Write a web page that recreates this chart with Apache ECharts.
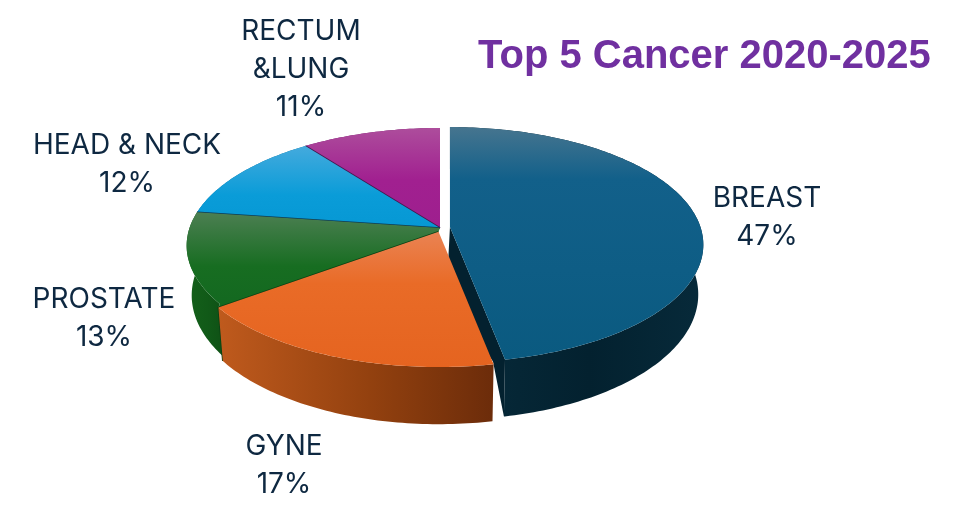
<!DOCTYPE html>
<html>
<head>
<meta charset="utf-8">
<title>Top 5 Cancer 2020-2025</title>
<style>
html,body{margin:0;padding:0;background:#fff;}
#main{width:962px;height:505px;}
</style>
<script src="https://cdn.jsdelivr.net/npm/echarts@6/dist/echarts.min.js"></script>
</head>
<body>
<div id="main"></div>
<script>
// values, clockwise from 12 o'clock
var categories = ['BREAST', 'GYNE', 'PROSTATE', 'HEAD & NECK', 'RECTUM\n&LUNG'];
var values = [47, 17, 13, 12, 11];

// paint order, back to front
var drawOrder = [0, 4, 3, 2, 1];

// styles
var topColors = [
	['#46758f', '#12608a', '#0a5a80'],
	['#ea8353', '#e96b27', '#e56420'],
	['#4c7f52', '#176d21', '#136820'],
	['#44aadd', '#0a9cd8', '#0698d4'],
	['#ad4d9c', '#a12090', '#9e1f8e']
];
var wallColors = [
	['#072b3b', '#03212f', '#072a3a'],
	['#bf5a1d', '#93410f', '#6c2c0a'],
	['#14601a', '#115a18', '#0f5015'],
	['#0a6f9a', '#0a6f9a', '#0a6f9a'],
	['#701a66', '#701a66', '#701a66']
];
var edgeColors = [null, null, '#0b4012', '#0c3c55', '#43194f'];

// layout: fake perspective of the pie
var apexX = 440, apexY = 228;
var radiusX = 250.5, radiusY = 115;
var persp = 0.15, depth = 48.6, bottomScale = 0.98;
var explode = [10, 4, 0, 0, 0];
// the wedges in the picture sit a little off their labels, degrees added at each wedge end
var angleNudge = [0, 2.7, 0.8, 2.6, 0];
var labelCenters = [[767, 218], [284, 466], [104, 319], [127, 165], [301, 70]];
var labelFont = '28px Inter';

var total = values.reduce(function (a, b) { return a + b; }, 0);
var startAngles = [];
var acc = 0;
values.forEach(function (v, i) {
	startAngles.push(acc / total * 360 + (i ? angleNudge[i - 1] : 0));
	acc += v;
});
startAngles.push(360);

function offsetOf(i) {
	var mid = (startAngles[i] + startAngles[i + 1]) / 2 * Math.PI / 180;
	return [explode[i] * Math.sin(mid), -explode[i] * Math.cos(mid)];
}
function topPoint(deg, ox, oy) {
	var t = deg * Math.PI / 180;
	var u = Math.sin(t), v = -Math.cos(t);
	var d = 1 - persp * v;
	return [apexX + ox + u * radiusX / d, apexY + oy + v * radiusY / d, d];
}
function bottomPoint(deg, ox, oy) {
	var p = topPoint(deg, ox, oy);
	return [apexX + ox + (p[0] - apexX - ox) * bottomScale, p[1] + depth / p[2]];
}
function shift(p, off) {
	return [p[0] + off[0], p[1] + off[1]];
}

var unChart = echarts.init(document.getElementById('main'));

function renderSlice(params, api) {
	var i = drawOrder[params.dataIndex];
	var a0 = startAngles[i];
	var a1 = startAngles[i + 1];
	var off = offsetOf(i);
	var ox = off[0], oy = off[1];
	var apex = [apexX + ox, apexY + oy];
	var children = [];
	var top = [], bottom = [], a;

	for (a = a0; a < a1; a += 1) {
		top.push(topPoint(a, ox, oy).slice(0, 2));
		bottom.push(bottomPoint(a, ox, oy));
	}
	top.push(topPoint(a1, ox, oy).slice(0, 2));
	bottom.push(bottomPoint(a1, ox, oy));

	// a wedge with an edge line reaches under the pulled out slice before it, so no gap shows
	var under = edgeColors[i] ? offsetOf(i - 1) : [0, 0];
	var topFace = [apex].concat(top);
	var wall = top.concat(bottom.slice().reverse());
	if (edgeColors[i]) {
		topFace = [shift(apex, under), shift(top[0], under)].concat(top, [apex]);
		wall = [shift(top[0], under)].concat(top, bottom.slice().reverse(), [shift(bottom[0], under)]);
	}

	var wc = wallColors[i];
	children.push({
		type: 'polygon',
		shape: { points: wall },
		style: {
			fill: new echarts.graphic.LinearGradient(0, 0, 1, 0, [
				{ offset: 0, color: wc[0] }, { offset: 0.55, color: wc[1] }, { offset: 1, color: wc[2] }
			])
		}
	});

	// cut face of the pulled out slice, its inner corner hides under the next slice
	if (explode[i] > 5) {
		var c = top[top.length - 1], cb = bottom[bottom.length - 1];
		var waist = [c[0] - 12, c[1] + 2];
		children.push({
			type: 'polygon',
			shape: { points: [apex, c, cb, waist, [(apex[0] + waist[0]) / 2 - 25, (apex[1] + waist[1]) / 2]] },
			style: { fill: wc[1] }
		});
	}

	var ys = top.map(function (p) { return p[1]; }).concat(apex[1]);
	var h = Math.max.apply(null, ys) - Math.min.apply(null, ys);
	var tc = topColors[i];
	children.push({
		type: 'polygon',
		shape: { points: topFace },
		style: {
			fill: new echarts.graphic.LinearGradient(0, 0, 0, 1, [
				{ offset: 0, color: tc[0] }, { offset: Math.min(52 / h, 0.6), color: tc[1] }, { offset: 1, color: tc[2] }
			])
		}
	});

	if (edgeColors[i]) {
		var line = [shift(apex, under), shift(top[0], under)];
		if (Math.cos(a0 * Math.PI / 180) < 0) line.push(shift(bottom[0], under));
		children.push({
			type: 'polyline',
			shape: { points: line },
			style: { fill: null, stroke: edgeColors[i], lineWidth: 1.6 }
		});
	}
	return { type: 'group', children: children };
}

var options = {
	backgroundColor: '#fff',
	animation: false,
	title: {
		text: 'Top 5 Cancer 2020-2025',
		left: 473,
		top: 32,
		textStyle: { fontFamily: 'Liberation Sans', fontSize: 40, fontWeight: 'bold', color: '#7030a0' }
	},
	graphic: categories.map(function (name, i) {
		return {
			type: 'text',
			x: labelCenters[i][0],
			y: labelCenters[i][1],
			style: {
				text: name + '\n' + values[i] + '%',
				font: labelFont,
				fill: '#0e2841',
				align: 'center',
				verticalAlign: 'middle',
				lineHeight: 38
			}
		};
	}),
	series: [{
		type: 'custom',
		coordinateSystem: 'none',
		silent: true,
		renderItem: renderSlice,
		data: drawOrder.map(function (i) { return { name: categories[i], value: [values[i]] }; })
	}]
};
unChart.setOption(options);
</script>
</body>
</html>
